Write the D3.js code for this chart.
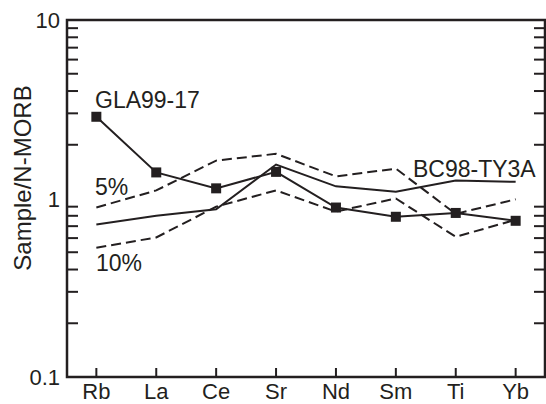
<!DOCTYPE html>
<html><head><meta charset="utf-8">
<script src="https://cdn.jsdelivr.net/npm/d3@7"></script>
<style>body{margin:0;background:#fff}svg{display:block}text{font-family:"Liberation Sans",Arial,sans-serif;fill:#231f20}</style>
</head><body>
<script>
const categories = ["Rb","La","Ce","Sr","Nd","Sm","Ti","Yb"];
const gla9917 = [2.87,1.40,1.14,1.41,0.89,0.79,0.83,0.75];
const bc98ty3a = [0.715,0.80,0.87,1.55,1.17,1.09,1.26,1.24];
const melt5 = [0.89,1.11,1.63,1.78,1.33,1.47,0.82,0.99];
const melt10 = [0.53,0.605,0.90,1.11,0.845,1.0,0.61,0.76];
const yTickLabels = [{v:10,t:"10"},{v:1,t:"1"},{v:0.1,t:"0.1"}];

const W=546,H=404, L=67, R=545, T=20, B=377;
const ink="#231f20";
const svg=d3.select("body").append("svg").attr("width",W).attr("height",H);
const x=d3.scalePoint().domain(categories).range([L,R]).padding(0.49);
const y=d3.scaleLog().domain([0.1,10]).range([B,T]);

// minor ticks
const minor=[];
[0.1,1].forEach(d=>{for(let k=2;k<=9;k++)minor.push(d*k);});
const g=svg.append("g");
g.selectAll("line.ml").data(minor).enter().append("line")
 .attr("x1",L).attr("x2",L+11).attr("y1",d=>y(d)).attr("y2",d=>y(d)).attr("stroke",ink).attr("stroke-width",2);
g.selectAll("line.mr").data(minor).enter().append("line")
 .attr("x1",R-11).attr("x2",R).attr("y1",d=>y(d)).attr("y2",d=>y(d)).attr("stroke",ink).attr("stroke-width",2);
g.selectAll("line.xt").data(categories).enter().append("line")
 .attr("x1",d=>x(d)).attr("x2",d=>x(d)).attr("y1",B).attr("y2",B-9).attr("stroke",ink).attr("stroke-width",2);
// frame
svg.append("path").attr("d",`M${L},${T}H${R}V${B}H${L}Z`).attr("fill","none").attr("stroke",ink).attr("stroke-width",2.5);

// tick labels
svg.selectAll("text.yl").data(yTickLabels).enter().append("text")
 .attr("x",L-7).attr("y",d=>y(d.v)+8).attr("text-anchor","end").attr("font-size",22).text(d=>d.t);
svg.selectAll("text.xl").data(categories).enter().append("text")
 .attr("x",d=>x(d)).attr("y",399).attr("text-anchor","middle").attr("font-size",22).text(d=>d);
svg.append("text").attr("transform",`translate(31,178) rotate(-90)`).attr("text-anchor","middle").attr("font-size",24).text("Sample/N-MORB");

const line=d3.line().x((d,i)=>x(categories[i])).y(d=>y(d));
function draw(data,dash){
  svg.append("path").attr("d",line(data)).attr("fill","none").attr("stroke",ink).attr("stroke-width",2)
   .attr("stroke-dasharray",dash?"10,5":null);
}
draw(melt5,true);
draw(melt10,true);
draw(bc98ty3a,false);
draw(gla9917,false);
svg.selectAll("rect.sq").data(gla9917).enter().append("rect")
 .attr("x",(d,i)=>x(categories[i])-5).attr("y",d=>y(d)-5).attr("width",10).attr("height",10).attr("fill",ink);

svg.append("text").attr("x",95).attr("y",108).attr("font-size",23).text("GLA99-17");
svg.append("text").attr("x",95).attr("y",195).attr("font-size",23).text("5%");
svg.append("text").attr("x",96).attr("y",271).attr("font-size",23).text("10%");
svg.append("text").attr("x",413).attr("y",177).attr("font-size",23).text("BC98-TY3A");
</script>
</body></html>
